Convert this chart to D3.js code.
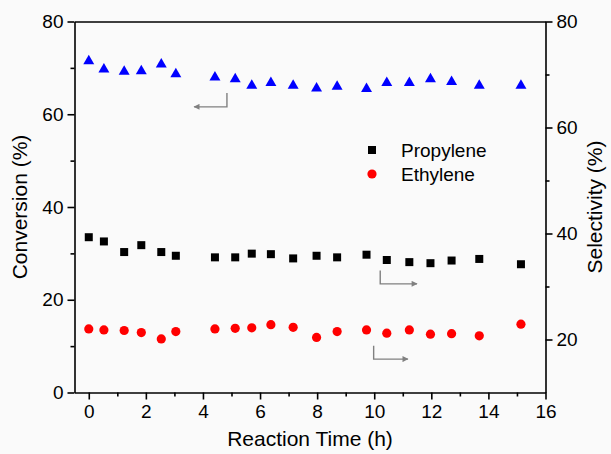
<!DOCTYPE html>
<html lang="en">
<head>
<meta charset="UTF-8">
<title>Conversion and Selectivity vs Reaction Time</title>
<script src="https://d3js.org/d3.v7.min.js"></script>
<style>
  body { margin: 0; background: #fafafa; }
  svg { display: block; font-family: "Liberation Sans", Arial, sans-serif; }
  .axis path, .axis line { stroke: #000; stroke-width: 1.6; }
  .axis text { font-size: 19px; fill: #000; }
  .title { font-size: 21px; fill: #000; }
</style>
</head>
<body>
<div id="chart"></div>
<script>
// reaction time (h) for each sample
const times = [0, 0.53, 1.24, 1.84, 2.54, 3.05, 4.42, 5.13, 5.71, 6.38,
               7.16, 7.98, 8.7, 9.73, 10.44, 11.23, 11.97, 12.71, 13.68, 15.14];
// conversion (%) -> left axis
const conversion = [71.7, 69.9, 69.4, 69.5, 71.0, 68.9, 68.2, 67.8, 66.4, 67.0,
                    66.4, 65.8, 66.2, 65.7, 67.0, 67.0, 67.8, 67.2, 66.4, 66.4];
// selectivity (%) -> right axis
const propylene = [39.3, 38.5, 36.5, 37.8, 36.5, 35.8, 35.5, 35.5, 36.2, 36.1,
                   35.3, 35.8, 35.5, 36.0, 35.0, 34.6, 34.4, 34.9, 35.2, 34.2];
const ethylene = [22.0, 21.8, 21.7, 21.3, 20.1, 21.5, 22.0, 22.1, 22.2, 22.8,
                  22.3, 20.4, 21.5, 21.8, 21.2, 21.8, 21.0, 21.1, 20.7, 22.9];

const xTicks = [0, 2, 4, 6, 8, 10, 12, 14, 16];
const leftTicks = [0, 20, 40, 60, 80];
const rightTicks = [20, 40, 60, 80];
const legendNames = ["Propylene", "Ethylene"];

const width = 611, height = 454;
const margin = { left: 74.5, right: 65.5, top: 21.5, bottom: 61.5 };

const svg = d3.select("#chart").append("svg")
  .attr("width", width)
  .attr("height", height);

const x = d3.scaleLinear().domain([-0.5, 16]).range([margin.left, width - margin.right]);
const yL = d3.scaleLinear().domain([0, 80]).range([height - margin.bottom, margin.top]);
const yR = d3.scaleLinear().domain([10, 80]).range([height - margin.bottom, margin.top]);

const bottom = height - margin.bottom;
const right = width - margin.right;

// minor ticks first (no labels)
svg.append("g").attr("class", "axis")
  .attr("transform", `translate(0,${bottom})`)
  .call(d3.axisBottom(x).tickValues(d3.range(1, 16, 2)).tickSize(4).tickFormat(""))
  .call(g => g.select(".domain").remove());
svg.append("g").attr("class", "axis")
  .attr("transform", `translate(${margin.left},0)`)
  .call(d3.axisLeft(yL).tickValues([10, 30, 50, 70]).tickSize(4).tickFormat(""))
  .call(g => g.select(".domain").remove());
svg.append("g").attr("class", "axis")
  .attr("transform", `translate(${right},0)`)
  .call(d3.axisRight(yR).tickValues([30, 50, 70]).tickSize(4).tickFormat(""))
  .call(g => g.select(".domain").remove());

// major axes
svg.append("g").attr("class", "axis")
  .attr("transform", `translate(0,${bottom})`)
  .call(d3.axisBottom(x).tickValues(xTicks).tickSize(7).tickSizeOuter(0).tickPadding(5));
svg.append("g").attr("class", "axis")
  .attr("transform", `translate(${margin.left},0)`)
  .call(d3.axisLeft(yL).tickValues(leftTicks).tickSize(7).tickSizeOuter(0).tickPadding(4));
svg.append("g").attr("class", "axis")
  .attr("transform", `translate(${right},0)`)
  .call(d3.axisRight(yR).tickValues(rightTicks).tickSize(7).tickSizeOuter(0).tickPadding(4));
svg.append("g").attr("class", "axis")
  .attr("transform", `translate(0,${margin.top})`)
  .call(d3.axisTop(x).tickValues([]).tickSizeOuter(0));

// axis titles
svg.append("text").attr("class", "title")
  .attr("x", (margin.left + right) / 2).attr("y", 446)
  .attr("text-anchor", "middle").text("Reaction Time (h)");
svg.append("text").attr("class", "title")
  .attr("transform", `translate(27,${yL(40)}) rotate(-90)`)
  .attr("text-anchor", "middle").text("Conversion (%)");
svg.append("text").attr("class", "title")
  .attr("transform", `translate(602,${yL(40)}) rotate(-90)`)
  .attr("text-anchor", "middle").text("Selectivity (%)");

// markers
const tri = d3.symbol().type(d3.symbolTriangle).size(52);
svg.append("g").selectAll("path")
  .data(times.map((t, i) => [t, conversion[i]]))
  .join("path")
  .attr("d", tri)
  .attr("transform", d => `translate(${x(d[0])},${yL(d[1]) + 1})`)
  .attr("fill", "#0000ff");

svg.append("g").selectAll("rect")
  .data(times.map((t, i) => [t, propylene[i]]))
  .join("rect")
  .attr("x", d => x(d[0]) - 4).attr("y", d => yR(d[1]) - 4)
  .attr("width", 8).attr("height", 8)
  .attr("fill", "#000");

svg.append("g").selectAll("circle")
  .data(times.map((t, i) => [t, ethylene[i]]))
  .join("circle")
  .attr("cx", d => x(d[0])).attr("cy", d => yR(d[1]))
  .attr("r", 4.6)
  .attr("fill", "#ff0000");

// legend
const legend = svg.append("g").attr("transform", "translate(372,150)");
legendNames.forEach((name, i) => {
  const row = legend.append("g").attr("transform", `translate(0,${i * 24})`);
  if (i === 0) {
    row.append("rect").attr("x", -4).attr("y", -4).attr("width", 8).attr("height", 8).attr("fill", "#000");
  } else {
    row.append("circle").attr("r", 4.6).attr("fill", "#ff0000");
  }
  row.append("text").attr("x", 29).attr("y", 7)
    .attr("font-size", 19).text(name);
});

// arrows pointing to each series' axis
svg.append("defs").append("marker")
  .attr("id", "head").attr("viewBox", "0 0 10 10")
  .attr("refX", 9).attr("refY", 5)
  .attr("markerWidth", 9).attr("markerHeight", 6)
  .attr("markerUnits", "userSpaceOnUse")
  .attr("orient", "auto")
  .append("path").attr("d", "M0,0L10,5L0,10Z").attr("fill", "#808080");

const arrows = [
  [[4.84, 64.6], [4.84, 61.6], [3.69, 61.6]],   // conversion, left axis
  [[10.21, 33.0], [10.21, 30.5], [11.5, 30.5]], // propylene, right axis
  [[9.98, 18.8], [9.98, 16.3], [11.18, 16.3]]   // ethylene, right axis
];
const arrowScale = [yL, yR, yR];
arrows.forEach((pts, i) => {
  svg.append("path")
    .attr("d", d3.line().x(p => x(p[0])).y(p => arrowScale[i](p[1]))(pts))
    .attr("fill", "none").attr("stroke", "#808080").attr("stroke-width", 1.4)
    .attr("marker-end", "url(#head)");
});
</script>
</body>
</html>
